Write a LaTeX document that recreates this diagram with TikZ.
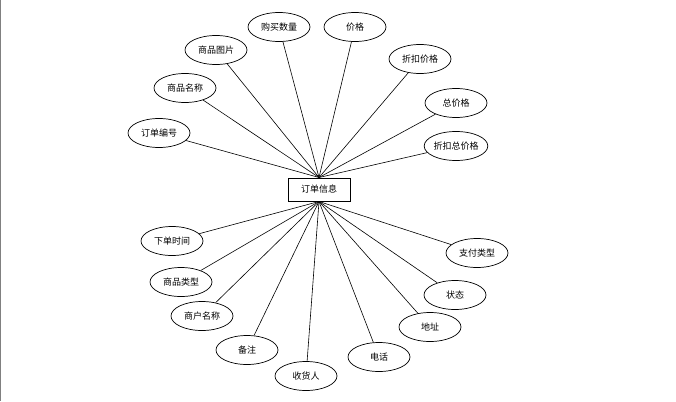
\documentclass[tikz,border=0pt]{standalone}
\usepackage{fontspec}
\newfontfamily\cjk{Noto Sans CJK SC}
\usetikzlibrary{shapes.geometric}

\begin{document}
\begin{tikzpicture}[x=1pt,y=-1pt,
  attr/.style={draw,ellipse,line width=0.7pt,minimum width=62pt,minimum height=29pt,inner sep=0pt,font=\cjk\fontsize{9}{10}\selectfont},
  ent/.style={draw,line width=1pt,minimum width=62pt,minimum height=23pt,inner sep=0pt,font=\cjk\fontsize{9}{10}\selectfont},
  link/.style={line width=0.6pt}]
\useasboundingbox (0,0) rectangle (676,401);
\draw[gray,line width=1.2pt] (0.6,0) -- (0.6,401);
% entity
\node[ent] (order) at (319,189.5) {订单信息};
% attributes above
\node[attr] (ddbh) at (159,133) {订单编号};
\node[attr] (spmc) at (185,88) {商品名称};
\node[attr] (sptp) at (216,50) {商品图片};
\node[attr] (gmsl) at (279,27) {购买数量};
\node[attr] (jg) at (355,27) {价格};
\node[attr] (zkjg) at (420,59) {折扣价格};
\node[attr] (zjg) at (456,103) {总价格};
\node[attr] (zkzjg) at (456,146) {折扣总价格};
% attributes below
\node[attr] (xdsj) at (172,241) {下单时间};
\node[attr] (splx) at (181,282) {商品类型};
\node[attr] (shmc) at (202,316) {商户名称};
\node[attr] (bz) at (247,350) {备注};
\node[attr] (shr) at (306,376) {收货人};
\node[attr] (dh) at (379,357) {电话};
\node[attr] (dz) at (430,327) {地址};
\node[attr] (zt) at (455,295) {状态};
\node[attr] (zflx) at (477,253) {支付类型};
% links
\draw[link] (order.north) -- (ddbh);
\draw[link] (order.north) -- (spmc);
\draw[link] (order.north) -- (sptp);
\draw[link] (order.north) -- (gmsl);
\draw[link] (order.north) -- (jg);
\draw[link] (order.north) -- (zkjg);
\draw[link] (order.north) -- (zjg);
\draw[link] (order.north) -- (zkzjg);
\draw[link] (order.south) -- (xdsj);
\draw[link] (order.south) -- (splx);
\draw[link] (order.south) -- (shmc);
\draw[link] (order.south) -- (bz);
\draw[link] (order.south) -- (shr);
\draw[link] (order.south) -- (dh);
\draw[link] (order.south) -- (dz);
\draw[link] (order.south) -- (zt);
\draw[link] (order.south) -- (zflx);
\end{tikzpicture}
\end{document}
